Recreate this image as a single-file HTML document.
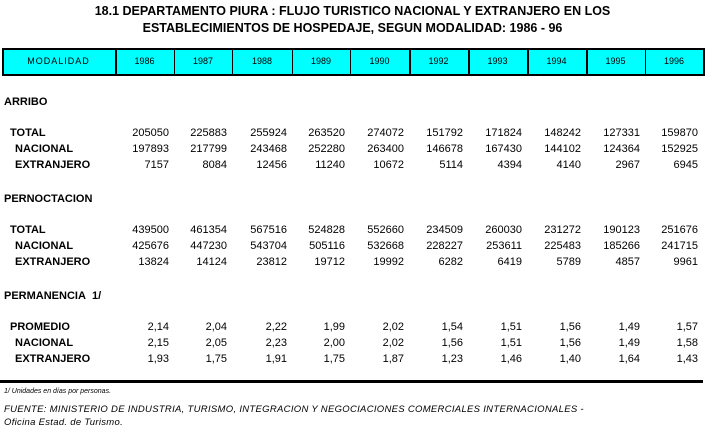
<!DOCTYPE html>
<html><head><meta charset="utf-8"><style>
body{margin:0;width:705px;height:429px;background:#fff;position:relative;overflow:hidden;font-family:"Liberation Sans",Arial,sans-serif;color:#000}
.t{position:absolute;left:0;width:705px;text-align:center;font-weight:bold;font-size:12.5px}
.hdr{position:absolute;top:48px;left:2px;width:699px;height:24px;background:#00ffff;border:2px solid #000}
.v{position:absolute;width:1px;top:48px;height:28px;background:#000}
.h{position:absolute;top:56px;font-size:9px;text-align:center}
.l{position:absolute;font-size:11px;font-weight:bold}
.n{position:absolute;font-size:11px;text-align:right;width:58px}
</style></head><body>
<div class="t" style="top:4px">18.1 DEPARTAMENTO PIURA : FLUJO TURISTICO NACIONAL Y EXTRANJERO EN LOS</div>
<div class="t" style="top:21px">ESTABLECIMIENTOS DE HOSPEDAJE, SEGUN MODALIDAD: 1986 - 96</div>
<div class="hdr"></div>
<div id="g"></div>
<div style="position:absolute;left:0;top:380px;width:703px;height:3px;background:#000"></div>
<div style="position:absolute;left:4px;top:388px;font-size:7px;font-style:italic">1/ Unidades en días por personas.</div>
<div style="position:absolute;left:4px;top:404px;font-size:9.5px;font-style:italic;letter-spacing:0.3px">FUENTE: MINISTERIO DE INDUSTRIA, TURISMO, INTEGRACION Y NEGOCIACIONES COMERCIALES INTERNACIONALES -</div>
<div style="position:absolute;left:4px;top:417px;font-size:9.5px;font-style:italic;letter-spacing:0.3px">Oficina Estad. de Turismo.</div>
<script>
var xs=[2,115,174,232,292,350,409,468,527,586,645,703];
var hd=["MODALIDAD","1986","1987","1988","1989","1990","1992","1993","1994","1995","1996"];
var s="";
for(var i=1;i<xs.length-1;i++){var w=(i==1||i>=6&&i<=9)?2:1;s+='<div class="v" style="left:'+xs[i]+'px;width:'+w+'px"></div>';}
for(var i=0;i<11;i++){s+='<div class="h" style="left:'+xs[i]+'px;width:'+(xs[i+1]-xs[i])+'px;'+(i==0?'letter-spacing:1px':'')+'">'+hd[i]+'</div>';}
var rows=[
[96,4,"ARRIBO"],
[127,10,"TOTAL","205050 225883 255924 263520 274072 151792 171824 148242 127331 159870"],
[143,15,"NACIONAL","197893 217799 243468 252280 263400 146678 167430 144102 124364 152925"],
[159,15,"EXTRANJERO","7157 8084 12456 11240 10672 5114 4394 4140 2967 6945"],
[193,4,"PERNOCTACION"],
[224,10,"TOTAL","439500 461354 567516 524828 552660 234509 260030 231272 190123 251676"],
[240,15,"NACIONAL","425676 447230 543704 505116 532668 228227 253611 225483 185266 241715"],
[256,15,"EXTRANJERO","13824 14124 23812 19712 19992 6282 6419 5789 4857 9961"],
[290,4,"PERMANENCIA&nbsp; 1/"],
[321,10,"PROMEDIO","2,14 2,04 2,22 1,99 2,02 1,54 1,51 1,56 1,49 1,57"],
[337,15,"NACIONAL","2,15 2,05 2,23 2,00 2,02 1,56 1,51 1,56 1,49 1,58"],
[353,15,"EXTRANJERO","1,93 1,75 1,91 1,75 1,87 1,23 1,46 1,40 1,64 1,43"]];
rows.forEach(function(r){
s+='<div class="l" style="top:'+r[0]+'px;left:'+r[1]+'px">'+r[2]+'</div>';
if(r[3]){r[3].split(" ").forEach(function(v,j){s+='<div class="n" style="top:'+r[0]+'px;left:'+(xs[j+2]-5-58)+'px">'+v+'</div>';});}
});
document.getElementById("g").innerHTML=s;
</script>
</body></html>
